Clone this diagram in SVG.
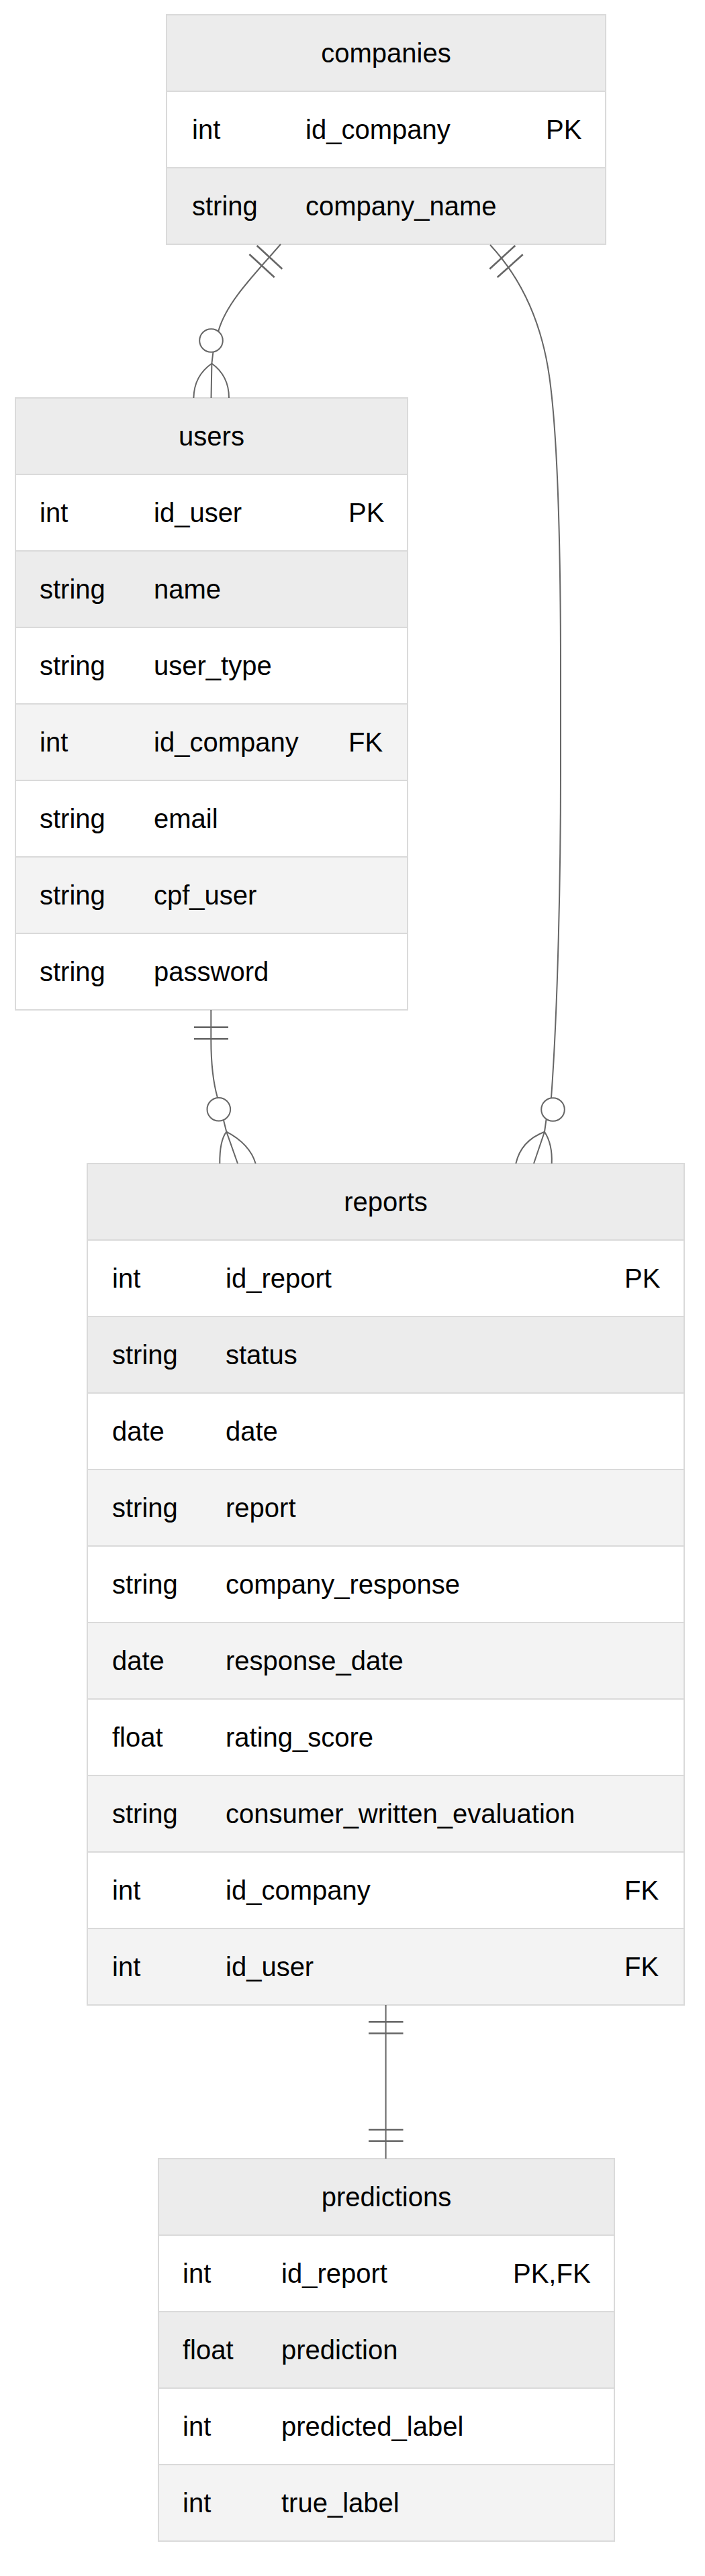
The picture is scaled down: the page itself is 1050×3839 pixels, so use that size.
<svg xmlns="http://www.w3.org/2000/svg" width="1050" height="3839" viewBox="0 0 1050 3839">
<style>
.n rect{stroke:#dadada;stroke-width:2}
.h{fill:#ececec}.w{fill:#ffffff}.d{fill:#ececec}.l{fill:#f3f3f3}
text{font-family:"Liberation Sans",Arial,Helvetica,sans-serif;font-size:40px;fill:#000}
.c{text-anchor:middle}
#connectors path,#connectors line{fill:none;stroke:#666;stroke-width:2}
#connectors line.bar{stroke-width:2.6}
#connectors circle{fill:#fff;stroke:#666;stroke-width:2}
</style>
<rect width="1050" height="3839" fill="#fff"/>
<g id="companies" class="n">
<rect class="h" x="248" y="22" width="654" height="114"/>
<rect class="w" x="248" y="136" width="654" height="114"/>
<rect class="d" x="248" y="250" width="654" height="114"/>
<text class="c" x="575" y="93">companies</text>
<text x="286" y="207">int</text><text x="455" y="207">id_company</text><text x="813" y="207">PK</text>
<text x="286" y="321">string</text><text x="455" y="321">company_name</text>
</g>
<g id="users" class="n">
<rect class="h" x="23" y="593" width="584" height="114"/>
<rect class="w" x="23" y="707" width="584" height="114"/>
<rect class="d" x="23" y="821" width="584" height="114"/>
<rect class="w" x="23" y="935" width="584" height="114"/>
<rect class="l" x="23" y="1049" width="584" height="114"/>
<rect class="w" x="23" y="1163" width="584" height="114"/>
<rect class="l" x="23" y="1277" width="584" height="114"/>
<rect class="w" x="23" y="1391" width="584" height="114"/>
<text class="c" x="315" y="664">users</text>
<text x="59" y="778">int</text><text x="229" y="778">id_user</text><text x="519" y="778">PK</text>
<text x="59" y="892">string</text><text x="229" y="892">name</text>
<text x="59" y="1006">string</text><text x="229" y="1006">user_type</text>
<text x="59" y="1120">int</text><text x="229" y="1120">id_company</text><text x="519" y="1120">FK</text>
<text x="59" y="1234">string</text><text x="229" y="1234">email</text>
<text x="59" y="1348">string</text><text x="229" y="1348">cpf_user</text>
<text x="59" y="1462">string</text><text x="229" y="1462">password</text>
</g>
<g id="reports" class="n">
<rect class="h" x="130" y="1734" width="889" height="114"/>
<rect class="w" x="130" y="1848" width="889" height="114"/>
<rect class="d" x="130" y="1962" width="889" height="114"/>
<rect class="w" x="130" y="2076" width="889" height="114"/>
<rect class="l" x="130" y="2190" width="889" height="114"/>
<rect class="w" x="130" y="2304" width="889" height="114"/>
<rect class="l" x="130" y="2418" width="889" height="114"/>
<rect class="w" x="130" y="2532" width="889" height="114"/>
<rect class="l" x="130" y="2646" width="889" height="114"/>
<rect class="w" x="130" y="2760" width="889" height="114"/>
<rect class="l" x="130" y="2874" width="889" height="114"/>
<text class="c" x="574.5" y="1805">reports</text>
<text x="167" y="1919">int</text><text x="336" y="1919">id_report</text><text x="930" y="1919">PK</text>
<text x="167" y="2033">string</text><text x="336" y="2033">status</text>
<text x="167" y="2147">date</text><text x="336" y="2147">date</text>
<text x="167" y="2261">string</text><text x="336" y="2261">report</text>
<text x="167" y="2375">string</text><text x="336" y="2375">company_response</text>
<text x="167" y="2489">date</text><text x="336" y="2489">response_date</text>
<text x="167" y="2603">float</text><text x="336" y="2603">rating_score</text>
<text x="167" y="2717">string</text><text x="336" y="2717">consumer_written_evaluation</text>
<text x="167" y="2831">int</text><text x="336" y="2831">id_company</text><text x="930" y="2831">FK</text>
<text x="167" y="2945">int</text><text x="336" y="2945">id_user</text><text x="930" y="2945">FK</text>
</g>
<g id="predictions" class="n">
<rect class="h" x="236" y="3217" width="679" height="114"/>
<rect class="w" x="236" y="3331" width="679" height="114"/>
<rect class="d" x="236" y="3445" width="679" height="114"/>
<rect class="w" x="236" y="3559" width="679" height="114"/>
<rect class="l" x="236" y="3673" width="679" height="114"/>
<text class="c" x="575.5" y="3288">predictions</text>
<text x="272" y="3402">int</text><text x="419" y="3402">id_report</text><text x="764" y="3402">PK,FK</text>
<text x="272" y="3516">float</text><text x="419" y="3516">prediction</text>
<text x="272" y="3630">int</text><text x="419" y="3630">predicted_label</text>
<text x="272" y="3744">int</text><text x="419" y="3744">true_label</text>
</g>
<g id="connectors">
<g id="e-companies-users">
<path d="M418,364 C378,410 338,450 325.7,492 L317.4,525 L315.4,541.7 L314.5,593"/>
<line class="bar" x1="382.6" y1="366" x2="420.3" y2="400.7"/>
<line class="bar" x1="371.4" y1="379" x2="408.7" y2="413.3"/>
<circle cx="314.5" cy="507.5" r="17.3"/>
<path d="M315.4,541.7 Q289,560 288.4,593"/>
<path d="M315.4,541.7 Q341,560 341,593"/>
</g>
<g id="e-companies-reports">
<path d="M730,365 C770,408 805,470 818,560 C828,630 835,760 835,1000 L835,1150 C835,1300 831,1500 821,1636 L813.3,1670 L811,1686.7 L795,1734"/>
<line class="bar" x1="729.3" y1="400.7" x2="767.3" y2="366"/>
<line class="bar" x1="740.7" y1="413.3" x2="778.7" y2="379.3"/>
<circle cx="823.5" cy="1653.5" r="17.3"/>
<path d="M811,1686.7 Q776,1700 768.3,1734"/>
<path d="M811,1686.7 Q823,1705 821.7,1734"/>
</g>
<g id="e-users-reports">
<path d="M314.3,1505 L314.3,1550 C314.3,1590 318,1615 324,1636 L333.3,1670.7 L337.3,1686.7 L354,1734"/>
<line class="bar" x1="289" y1="1530.7" x2="340" y2="1530.7"/>
<line class="bar" x1="289" y1="1548.3" x2="340" y2="1548.3"/>
<circle cx="325.8" cy="1653.2" r="17.3"/>
<path d="M337.3,1686.7 Q327,1700 327.3,1734"/>
<path d="M337.3,1686.7 Q372,1705 380.7,1734"/>
</g>
<g id="e-reports-predictions">
<path d="M574.6,2988 L574.6,3217"/>
<line class="bar" x1="549" y1="3013.3" x2="600.5" y2="3013.3"/>
<line class="bar" x1="549" y1="3030.3" x2="600.5" y2="3030.3"/>
<line class="bar" x1="549" y1="3174" x2="600.5" y2="3174"/>
<line class="bar" x1="549" y1="3190.7" x2="600.5" y2="3190.7"/>
</g>
</g>
</svg>
